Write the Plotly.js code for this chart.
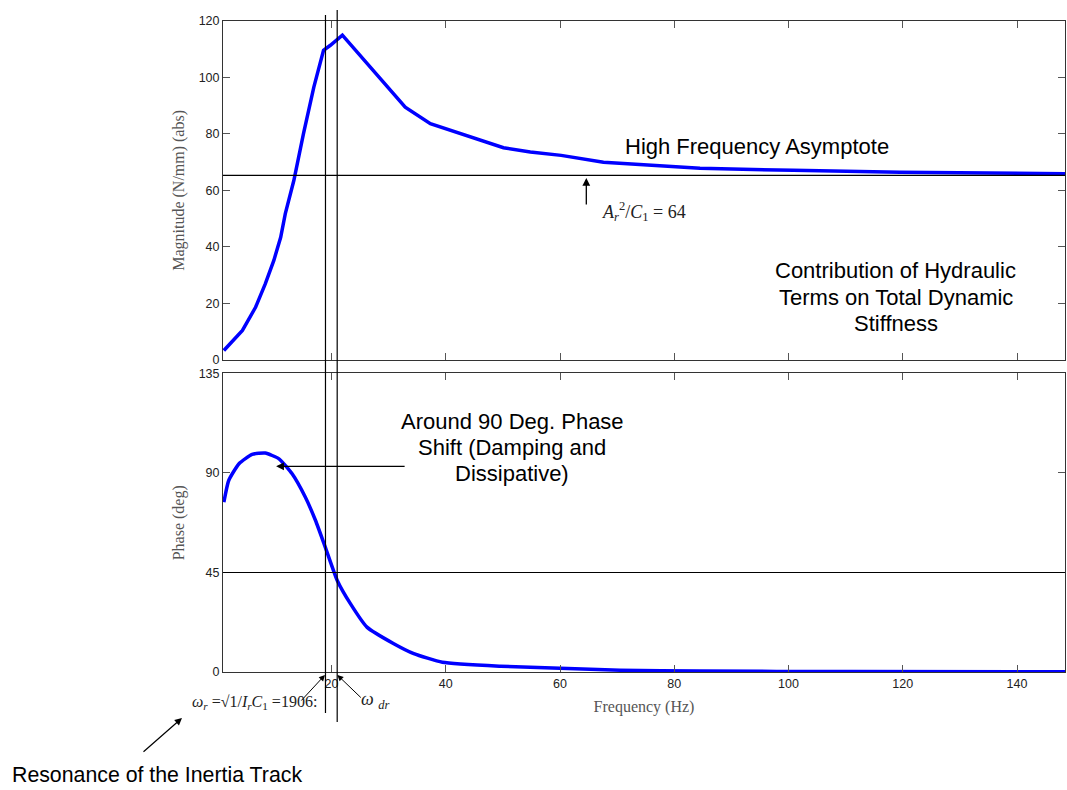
<!DOCTYPE html>
<html>
<head>
<meta charset="utf-8">
<script src="https://cdn.plot.ly/plotly-3.0.1.min.js"></script>
<style>html,body{margin:0;padding:0;background:#fff;}#chart{width:1067px;height:790px;}</style>
</head>
<body>
<div id="chart"></div>
<script>
// Magnitude of dynamic stiffness (N/mm) vs frequency (Hz)
const magFreq = [1.15, 4.4, 6.7, 8.4, 9.9, 11.1, 11.9, 12.8, 13.4, 15.1, 16.9, 18.6, 19.8, 21.9, 26.2, 32.9, 37.3, 44.3, 50.1, 54.8, 60.2, 67.6, 84.5, 100.8, 119.5, 148.4];
const magValues = [3.3, 10.4, 18.6, 26.9, 35.2, 43.4, 51.7, 58.8, 63.5, 80.2, 96.6, 109.6, 111.4, 115, 105, 89.5, 83.6, 78.9, 75.1, 73.6, 72.4, 70, 67.8, 67.1, 66.4, 65.9];
// Phase (deg) vs frequency (Hz)
const phaseFreq = [1.15, 2.0, 3.8, 6.1, 8.4, 10.8, 13.1, 15.4, 17.2, 18.9, 21.0, 23.3, 26.2, 30.9, 34.4, 39.4, 49.6, 60, 70.5, 84.5, 110.8, 148.4];
const phaseValues = [76.8, 86.6, 94.2, 98.4, 99, 96.4, 89.6, 79.1, 68.5, 56.5, 41.4, 30.9, 20.3, 12.8, 8.3, 4.4, 2.6, 1.7, 0.8, 0.4, 0.2, 0.1];
// Reference values
const asymptote = 65.3;
const phaseRef = 45;
const omegaR = 18.94;
const omegaDr = 20.99;
const magTicks = [0, 20, 40, 60, 80, 100, 120];
const phaseTicks = [0, 45, 90, 135];
const freqTicks = [20, 40, 60, 80, 100, 120, 140];

const blue = '#0000ff';
const tickFont = {family: 'Arial, Liberation Sans, sans-serif', size: 12.5, color: '#222'};
const titleFont = {family: 'Liberation Serif, Times New Roman, serif', size: 16, color: '#555'};
const noteFont = {family: 'Arial, Liberation Sans, sans-serif', size: 22, color: '#000'};
const mathFont = {family: 'Liberation Serif, Times New Roman, serif', size: 16, color: '#222'};

const traces = [
  {x: magFreq, y: magValues, xaxis: 'x', yaxis: 'y', mode: 'lines', line: {color: blue, width: 3.5}, hoverinfo: 'skip', showlegend: false},
  {x: phaseFreq, y: phaseValues, xaxis: 'x2', yaxis: 'y2', mode: 'lines', line: {color: blue, width: 3.5, shape: 'spline', smoothing: 0.5}, hoverinfo: 'skip', showlegend: false}
];

const axisCommon = {
  showgrid: false, zeroline: false, showline: true, linecolor: '#333', linewidth: 1,
  mirror: 'ticks', ticks: 'inside', ticklen: 7, tickcolor: '#555', tickfont: tickFont
};

const arrowStyle = {showarrow: true, arrowhead: 2, arrowsize: 1.2, arrowcolor: '#000', text: ''};

const layout = {
  width: 1067, height: 790,
  margin: {l: 223, r: 2, t: 21, b: 118},
  paper_bgcolor: '#fff', plot_bgcolor: '#fff',
  showlegend: false,
  xaxis: Object.assign({}, axisCommon, {domain: [0, 1], anchor: 'y', range: [1, 148.4], tickvals: freqTicks, showticklabels: false}),
  yaxis: Object.assign({}, axisCommon, {domain: [0.4796, 1], anchor: 'x', range: [0, 120], tickvals: magTicks,
    title: {text: 'Magnitude (N/mm) (abs)', font: titleFont, standoff: 10}}),
  xaxis2: Object.assign({}, axisCommon, {domain: [0, 1], anchor: 'y2', range: [1, 148.4], tickvals: freqTicks,
    title: {text: 'Frequency (Hz)', font: titleFont, standoff: 10}}),
  yaxis2: Object.assign({}, axisCommon, {domain: [0, 0.4586], anchor: 'x2', range: [0, 135], tickvals: phaseTicks,
    title: {text: 'Phase (deg)', font: titleFont, standoff: 10}}),
  shapes: [
    {type: 'line', xref: 'x', yref: 'paper', x0: omegaR, x1: omegaR, y0: -0.063, y1: 1.0092, line: {color: '#000', width: 1.2}},
    {type: 'line', xref: 'x', yref: 'paper', x0: omegaDr, x1: omegaDr, y0: -0.0768, y1: 1.0169, line: {color: '#000', width: 1.2}},
    {type: 'line', xref: 'paper', yref: 'y', x0: 0, x1: 1, y0: asymptote, y1: asymptote, line: {color: '#000', width: 1.2}},
    {type: 'line', xref: 'paper', yref: 'y2', x0: 0, x1: 1, y0: phaseRef, y1: phaseRef, line: {color: '#000', width: 1.2}}
  ],
  annotations: [
    {xref: 'x', yref: 'y', x: 94.5, y: 75.7, text: 'High Frequency Asymptote', showarrow: false, font: noteFont},
    {xref: 'x', yref: 'y', x: 118.8, y: 31.5, text: 'Contribution of Hydraulic', showarrow: false, font: noteFont},
    {xref: 'x', yref: 'y', x: 118.8, y: 22.2, text: 'Terms on Total Dynamic', showarrow: false, font: noteFont},
    {xref: 'x', yref: 'y', x: 118.8, y: 13.0, text: 'Stiffness', showarrow: false, font: noteFont},
    {xref: 'x', yref: 'y', x: 67.0, y: 52.7, xanchor: 'left', yanchor: 'middle', text: '<i>A</i><sub><i>r</i></sub><sup>2</sup>/<i>C</i><sub>1</sub> = 64', showarrow: false, font: {family: mathFont.family, size: 18, color: '#222'}},
    Object.assign({xref: 'x', yref: 'y', x: 64.6, y: 64.4, arrowwidth: 1.3, ax: 0, ay: 28}, arrowStyle),
    {xref: 'x2', yref: 'y2', x: 51.65, y: 113.1, text: 'Around 90 Deg. Phase', showarrow: false, font: noteFont},
    {xref: 'x2', yref: 'y2', x: 51.65, y: 101.3, text: 'Shift (Damping and', showarrow: false, font: noteFont},
    {xref: 'x2', yref: 'y2', x: 51.65, y: 89.6, text: 'Dissipative)', showarrow: false, font: noteFont},
    Object.assign({xref: 'x2', yref: 'y2', x: 10.3, y: 93, arrowwidth: 1.3, ax: 130, ay: 0}, arrowStyle),
    Object.assign({xref: 'paper', yref: 'paper', x: 0.1211, y: -0.0046, arrowwidth: 1.0, ax: -25, ay: 27}, arrowStyle),
    Object.assign({xref: 'paper', yref: 'paper', x: 0.1358, y: -0.0046, arrowwidth: 1.0, ax: 25, ay: 24}, arrowStyle),
    {xref: 'paper', yref: 'paper', x: -0.0392, y: -0.0476, xanchor: 'left', yanchor: 'middle', text: '<i>ω</i><sub><i>r</i></sub> =√1/<i>I</i><sub><i>r</i></sub><i>C</i><sub>1</sub> =1906:', showarrow: false, font: mathFont},
    {xref: 'paper', yref: 'paper', x: 0.1615, y: -0.0445, xanchor: 'left', yanchor: 'middle', text: '<i>ω</i> <sub><i>dr</i></sub>', showarrow: false, font: {family: mathFont.family, size: 18, color: '#222'}},
    Object.assign({xref: 'paper', yref: 'paper', x: -0.0487, y: -0.0707, arrowwidth: 1.2, ax: -40, ay: 35}, arrowStyle),
    {xref: 'paper', yref: 'paper', x: -0.253, y: -0.158, xanchor: 'left', yanchor: 'middle', text: 'Resonance of the Inertia Track', showarrow: false, font: {family: noteFont.family, size: 21.3, color: '#000'}}
  ]
};

Plotly.newPlot('chart', traces, layout, {displayModeBar: false, staticPlot: true});
</script>
</body>
</html>
